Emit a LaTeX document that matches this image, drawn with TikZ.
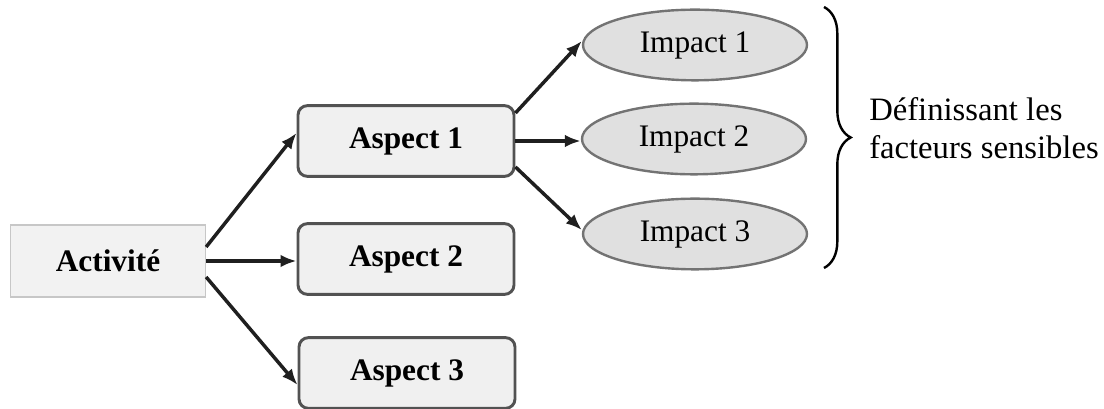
\documentclass[tikz,border=0pt]{standalone}
\usepackage{fontspec}
\setmainfont{Liberation Serif}
\usetikzlibrary{arrows.meta,shapes.geometric,decorations.pathreplacing}
\begin{document}
\begin{tikzpicture}[x=0.75pt,y=-0.75pt,
  boxfont/.style={font=\fontsize{23.5}{28}\selectfont},
  actbox/.style={font=\fontsize{23.5}{28}\selectfont\bfseries,
    draw=black!22, fill=black!5, line width=1.2pt,
    minimum width=146pt, minimum height=54pt},
  aspbox/.style={font=\fontsize{23.5}{28}\selectfont\bfseries,
    draw=black!68, fill=black!6, line width=2.2pt, rounded corners=7pt,
    minimum width=162pt, minimum height=53pt},
  impact/.style={boxfont, ellipse, draw=black!55, fill=black!12,
    line width=1.8pt, minimum width=168pt, minimum height=53pt, inner sep=0pt},
  link/.style={-{Latex[length=12pt,width=9.5pt]}, line width=2.6pt, black!88}
]
\useasboundingbox (0,0) rectangle (1104,409);

% activity and its aspects
\node[actbox] (act) at (108,261) {Activité};
\node[aspbox] (a1) at (406,141) {Aspect 1};
\node[aspbox] (a2) at (406,259) {Aspect 2};
\node[aspbox] (a3) at (407,373) {Aspect 3};

% impacts of the first aspect
\node[impact] (i1) at (695,45) {Impact 1};
\node[impact] (i2) at (694,139) {Impact 2};
\node[impact] (i3) at (695,234) {Impact 3};

% links
\draw[link] ([yshift=10.5pt]act.east) -- ([yshift=6pt]a1.west);
\draw[link] (act.east) -- (act.east -| a2.west);
\draw[link] ([yshift=-12pt]act.east) -- ([yshift=-9pt]a3.west);

\draw[link] ([yshift=21pt]a1.east) -- ([yshift=3pt]i1.west);
\draw[link] (a1.east) -- (a1.east -| i2.west);
\draw[link] ([yshift=-19.5pt]a1.east) -- ([yshift=3pt]i3.west);

% brace grouping the impacts
\coordinate (btop) at (824,7);
\coordinate (bbot) at (824,268);
\draw[decorate, decoration={brace, amplitude=20pt}, line width=1.8pt]
  (btop) -- (bbot);

\node[anchor=west, align=left, inner sep=0pt,
  font=\fontsize{24.5}{28}\selectfont] (note) at (869,128)
  {Définissant les\\facteurs sensibles};
\end{tikzpicture}
\end{document}
